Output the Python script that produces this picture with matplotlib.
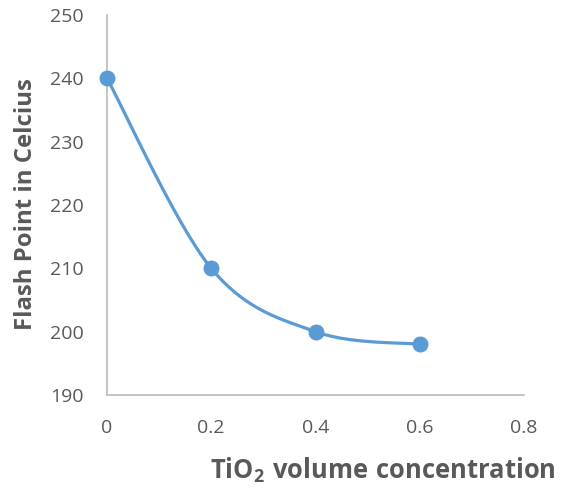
import numpy as np
import matplotlib
matplotlib.use("Agg")
import matplotlib.pyplot as plt

x_vals = [0.0, 0.2, 0.4, 0.6]
y_vals = [240, 210, 200, 198]
x_ticks = [0, 0.2, 0.4, 0.6, 0.8]
x_tick_labels = ["0", "0.2", "0.4", "0.6", "0.8"]
y_ticks = [190, 200, 210, 220, 230, 240, 250]

plt.rcParams['font.family'] = ['Open Sans', 'DejaVu Sans']
plt.rcParams['mathtext.fontset'] = 'custom'
plt.rcParams['mathtext.rm'] = 'Open Sans'
plt.rcParams['mathtext.bf'] = 'Open Sans:bold'

LINE = '#5B9BD5'
TXT = '#595959'
AX = '#BFBFBF'

def smooth(xs, ys, n=40):
    # Excel-style smoothed line (Catmull-Rom Bezier)
    P = np.column_stack([xs, ys]).astype(float)
    out = []
    for i in range(len(P) - 1):
        p0 = P[i - 1] if i > 0 else P[i]
        p1 = P[i]
        p2 = P[i + 1]
        p3 = P[i + 2] if i + 2 < len(P) else P[i + 1]
        c1 = p1 + (p2 - p0) / 6
        c2 = p2 - (p3 - p1) / 6
        t = np.linspace(0, 1, n)[:, None]
        seg = (1 - t) ** 3 * p1 + 3 * (1 - t) ** 2 * t * c1 + 3 * (1 - t) * t ** 2 * c2 + t ** 3 * p2
        out.append(seg if i == 0 else seg[1:])
    S = np.vstack(out)
    return S[:, 0], S[:, 1]

fig = plt.figure(figsize=(5.71, 4.9), dpi=100)
ax = fig.add_axes([107/571, 1 - 395/490, (524 - 107)/571, (395 - 15)/490])

sx, sy = smooth(x_vals, y_vals)
ax.plot(sx, sy, color=LINE, lw=2.3, solid_capstyle='round', zorder=2)
ax.plot(x_vals, y_vals, 'o', color=LINE, ms=10.5, zorder=3, clip_on=False)

ax.set_xlim(0, 0.8)
ax.set_ylim(190, 250)
ax.set_xticks(x_ticks)
ax.set_xticklabels(x_tick_labels)
ax.set_yticks(y_ticks)
for s in ['top', 'right']:
    ax.spines[s].set_visible(False)
for s in ['left', 'bottom']:
    ax.spines[s].set_color(AX)
    ax.spines[s].set_linewidth(1.3)
ax.tick_params(length=0, labelsize=14, colors=TXT)
ax.tick_params(axis='y', pad=17)
ax.tick_params(axis='x', pad=17)

fig.text(383/571, 1 - 470/490, r'$\mathbf{TiO_2\ volume\ concentration}$', ha='center', va='center',
         fontsize=18.4, color=TXT)
fig.text(26/571, 1 - 204/490, 'Flash Point in Celcius', rotation=90, ha='center', va='center',
         fontsize=17.2, color=TXT, fontweight='bold')

fig.savefig('out.png', dpi=100)
